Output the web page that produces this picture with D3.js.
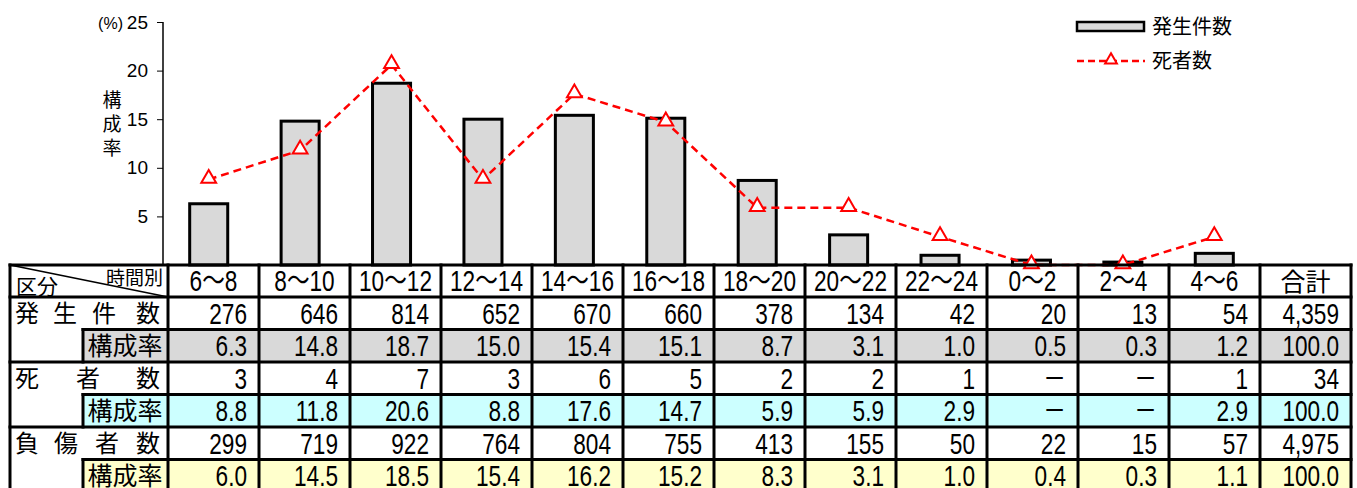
<!DOCTYPE html>
<html>
<head>
<meta charset="utf-8">
<script src="https://cdn.jsdelivr.net/npm/d3@7"></script>
<style>
  body { margin: 0; background: #fff; }
  text { font-family: "Liberation Sans", "Noto Sans CJK JP", sans-serif; }
  .jp { font-family: "Noto Sans CJK JP", sans-serif; }
</style>
</head>
<body>
<div id="chart"></div>
<script>
// time bands and table values
var cats = ["6～8", "8～10", "10～12", "12～14", "14～16", "16～18", "18～20", "20～22", "22～24", "0～2", "2～4", "4～6"];
var totalLabel = "合計";
var incidents = [276, 646, 814, 652, 670, 660, 378, 134, 42, 20, 13, 54];
var incidentRate = [6.3, 14.8, 18.7, 15.0, 15.4, 15.1, 8.7, 3.1, 1.0, 0.5, 0.3, 1.2];
var deaths = [3, 4, 7, 3, 6, 5, 2, 2, 1, null, null, 1];
var deathRate = [8.8, 11.8, 20.6, 8.8, 17.6, 14.7, 5.9, 5.9, 2.9, null, null, 2.9];
var injured = [299, 719, 922, 764, 804, 755, 413, 155, 50, 22, 15, 57];
var injuredRate = [6.0, 14.5, 18.5, 15.4, 16.2, 15.2, 8.3, 3.1, 1.0, 0.4, 0.3, 1.1];
var totals = { incidents: "4,359", incidentRate: "100.0", deaths: "34", deathRate: "100.0", injured: "4,975", injuredRate: "100.0" };
var yTicks = [5, 10, 15, 20, 25];

var width = 1357, height = 488;

var svg = d3.select("#chart").append("svg")
    .attr("width", width)
    .attr("height", height);

// chart scales
var baseY = 265;
var y = d3.scaleLinear().domain([0, 25]).range([baseY, 22]);
var x = d3.scaleBand().domain(cats).range([163, 1260]).paddingInner(0.584).paddingOuter(0.292);

// bars
svg.append("g").selectAll("rect")
    .data(incidentRate)
    .enter().append("rect")
    .attr("x", function(d, i) { return x(cats[i]); })
    .attr("y", function(d) { return y(d); })
    .attr("width", x.bandwidth())
    .attr("height", function(d) { return baseY - y(d); })
    .attr("fill", "#d9d9d9")
    .attr("stroke", "#000")
    .attr("stroke-width", 3);

// death line (missing values sit on zero)
var linePts = deathRate.map(function(d, i) { return { c: cats[i], v: d == null ? 0 : d }; });
var line = d3.line()
    .x(function(d) { return x(d.c) + x.bandwidth() / 2; })
    .y(function(d) { return y(d.v); });

svg.append("path")
    .datum(linePts)
    .attr("fill", "none")
    .attr("stroke", "#ff0000")
    .attr("stroke-width", 2.5)
    .attr("stroke-dasharray", "8,5")
    .attr("d", line);

var tri = d3.symbol().type(d3.symbolTriangle).size(95);
svg.append("g").selectAll("path")
    .data(linePts)
    .enter().append("path")
    .attr("d", tri)
    .attr("transform", function(d) { return "translate(" + (x(d.c) + x.bandwidth() / 2) + "," + (y(d.v) - 1) + ")"; })
    .attr("fill", "#fff")
    .attr("stroke", "#ff0000")
    .attr("stroke-width", 2);

// y axis
var yAxis = svg.append("g")
    .attr("transform", "translate(163,0)")
    .call(d3.axisLeft(y).tickValues(yTicks).tickSize(6).tickPadding(9));
yAxis.select(".domain").attr("stroke", "#000").attr("stroke-width", 1.5).attr("d", "M0," + y(25) + "V" + baseY);
yAxis.selectAll("text").attr("font-size", 19).attr("fill", "#000")
    .style("font-family", "'Liberation Sans', sans-serif");

svg.append("text")
    .attr("x", 123).attr("y", 29)
    .attr("text-anchor", "end")
    .attr("font-size", 16)
    .text("(%)");

svg.append("g").selectAll("text")
    .data(["構", "成", "率"])
    .enter().append("text")
    .attr("class", "jp")
    .attr("x", 112)
    .attr("y", function(d, i) { return 107 + i * 24; })
    .attr("text-anchor", "middle")
    .attr("font-size", 19)
    .text(function(d) { return d; });

// legend
var lg = svg.append("g");
lg.append("rect")
    .attr("x", 1077).attr("y", 22).attr("width", 67).attr("height", 9)
    .attr("fill", "#d9d9d9").attr("stroke", "#000").attr("stroke-width", 2.5);
lg.append("text").attr("class", "jp")
    .attr("x", 1152).attr("y", 34).attr("font-size", 20).text("発生件数");
lg.append("line")
    .attr("x1", 1077).attr("x2", 1145).attr("y1", 61).attr("y2", 61)
    .attr("stroke", "#ff0000").attr("stroke-width", 2.5).attr("stroke-dasharray", "7,4");
lg.append("path")
    .attr("d", d3.symbol().type(d3.symbolTriangle).size(60))
    .attr("transform", "translate(1111,60)")
    .attr("fill", "#fff").attr("stroke", "#ff0000").attr("stroke-width", 2);
lg.append("text").attr("class", "jp")
    .attr("x", 1152).attr("y", 68).attr("font-size", 20).text("死者数");

// table
var tLeft = 10, tLabelRight = 168, tSub = 83, tTop = 265, headH = 32, rowH = 32.5;
var cols = cats.concat([totalLabel]);
var cx = d3.scaleBand().domain(cols).range([tLabelRight, tLabelRight + cols.length * 91]);
var tRight = cx.range()[1];
var rowTop = function(r) { return tTop + headH + r * rowH; };
var tBottom = rowTop(6);

var fmt = function(v) { return v == null ? "－" : d3.format(",")(v); };
var fmt1 = function(v) { return v == null ? "－" : d3.format(".1f")(v); };

var rows = [
    { vals: incidents.map(fmt), total: totals.incidents, fill: "#fff" },
    { vals: incidentRate.map(fmt1), total: totals.incidentRate, fill: "#d9d9d9" },
    { vals: deaths.map(fmt), total: totals.deaths, fill: "#fff" },
    { vals: deathRate.map(fmt1), total: totals.deathRate, fill: "#ccffff" },
    { vals: injured.map(fmt), total: totals.injured, fill: "#fff" },
    { vals: injuredRate.map(fmt1), total: totals.injuredRate, fill: "#ffffcc" }
];

var tbl = svg.append("g");

// row fills for rate rows
rows.forEach(function(r, i) {
    if (r.fill === "#fff") return;
    tbl.append("rect")
        .attr("x", tSub).attr("y", rowTop(i))
        .attr("width", tRight - tSub).attr("height", rowH)
        .attr("fill", r.fill);
});

// header labels
cols.forEach(function(c) {
    var g = tbl.append("g")
        .attr("transform", "translate(" + (cx(c) + cx.bandwidth() / 2) + "," + (tTop + headH / 2 + 10) + ")");
    if (c === totalLabel) {
        g.append("text").attr("class", "jp").attr("text-anchor", "middle").attr("font-size", 25).attr("y", 0).text(c);
    } else {
        g.append("text").attr("text-anchor", "middle").attr("font-size", 29)
            .attr("transform", "scale(0.78,1)").text(c);
    }
});

// numbers
rows.forEach(function(r, i) {
    var vals = r.vals.concat([r.total]);
    vals.forEach(function(v, j) {
        tbl.append("g")
            .attr("transform", "translate(" + (cx(cols[j]) + cx.bandwidth() - 12) + "," + (rowTop(i) + rowH / 2 + 10.5) + ")")
            .append("text")
            .attr("text-anchor", "end")
            .attr("font-size", 29)
            .attr("transform", "scale(0.78,1)")
            .text(v);
    });
});

// left labels
var labelRow = function(chars, xs, r) {
    chars.forEach(function(ch, k) {
        tbl.append("text").attr("class", "jp")
            .attr("x", xs[k]).attr("y", rowTop(r) + rowH / 2 + 9)
            .attr("text-anchor", "middle")
            .attr("font-size", 24)
            .text(ch);
    });
};
labelRow(["発", "生", "件", "数"], [27, 65, 104, 148], 0);
labelRow(["死", "者", "数"], [27, 88, 148], 2);
labelRow(["負", "傷", "者", "数"], [27, 66, 107, 148], 4);
[1, 3, 5].forEach(function(r) {
    tbl.append("text").attr("class", "jp")
        .attr("x", 125).attr("y", rowTop(r) + rowH / 2 + 9)
        .attr("text-anchor", "middle")
        .attr("font-size", 25)
        .text("構成率");
});

tbl.append("text").attr("class", "jp").attr("x", 16).attr("y", 294).attr("font-size", 21).text("区分");
tbl.append("text").attr("class", "jp").attr("x", 163).attr("y", 285).attr("text-anchor", "end").attr("font-size", 19).text("時間別");
tbl.append("line")
    .attr("x1", tLeft).attr("y1", tTop).attr("x2", tLabelRight).attr("y2", tTop + headH)
    .attr("stroke", "#000").attr("stroke-width", 1.5);

// grid lines
var lines = [];
lines.push([tLeft, tTop, tRight, tTop]);
lines.push([tLeft, tTop + headH, tRight, tTop + headH]);
[1, 2, 3, 4, 5].forEach(function(r) {
    var x0 = (r % 2 === 0) ? tLeft : tSub;
    lines.push([x0, rowTop(r), tRight, rowTop(r)]);
});
[1, 3, 5].forEach(function(r) {
    lines.push([tSub, rowTop(r), tSub, rowTop(r + 1)]);
});
lines.push([tLeft, tTop, tLeft, tBottom]);
lines.push([tLabelRight, tTop, tLabelRight, tBottom]);
cols.forEach(function(c) {
    lines.push([cx(c) + cx.bandwidth(), tTop, cx(c) + cx.bandwidth(), tBottom]);
});

tbl.append("g").selectAll("line")
    .data(lines)
    .enter().append("line")
    .attr("x1", function(d) { return d[0]; })
    .attr("y1", function(d) { return d[1]; })
    .attr("x2", function(d) { return d[2]; })
    .attr("y2", function(d) { return d[3]; })
    .attr("stroke", "#000")
    .attr("stroke-width", 3)
    .attr("stroke-linecap", "square");
</script>
</body>
</html>
